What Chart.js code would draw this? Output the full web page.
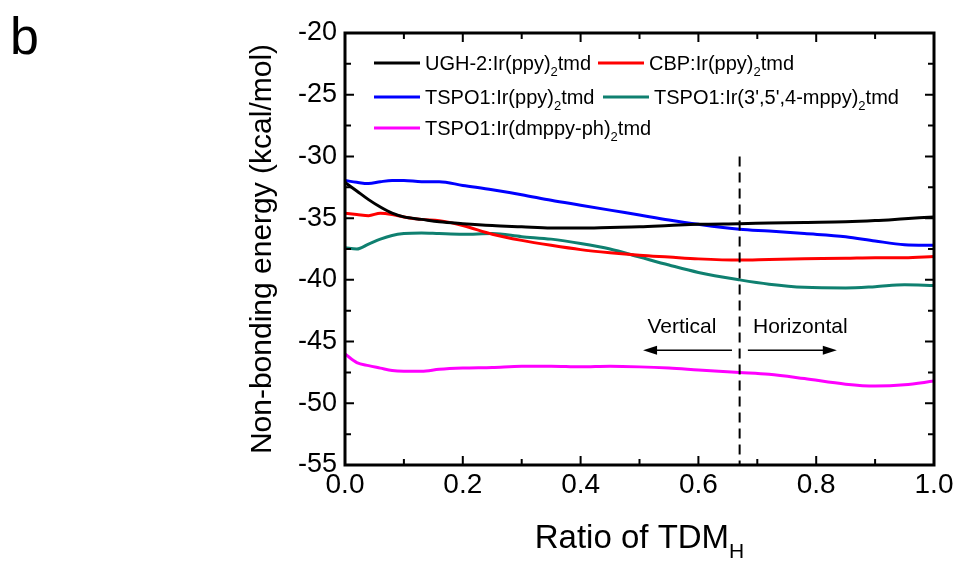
<!DOCTYPE html>
<html>
<head>
<meta charset="utf-8">
<script src="https://cdn.jsdelivr.net/npm/chart.js@4.4.0/dist/chart.umd.min.js"></script>
<style>
    body { margin: 0; background: #fff; }
</style>
</head>
<body>
<canvas id="myChart" width="960" height="564"></canvas>
<script>
// ratio of horizontal TDM (x axis)
var ratio = [0, 0.02, 0.04, 0.06, 0.08, 0.1, 0.13, 0.16, 0.2, 0.25, 0.3, 0.35, 0.4, 0.45, 0.5, 0.55, 0.6, 0.67, 0.72, 0.78, 0.85, 0.9, 0.95, 1.0];

// non-bonding energy (kcal/mol)
var ughPpy = [-32.1, -32.8, -33.5, -34.1, -34.6, -34.9, -35.1, -35.3, -35.45, -35.6, -35.7, -35.8, -35.8, -35.75, -35.7, -35.6, -35.5, -35.45, -35.4, -35.35, -35.3, -35.2, -35.05, -34.9];
var cbpPpy = [-34.6, -34.7, -34.8, -34.6, -34.7, -34.9, -35.1, -35.2, -35.6, -36.3, -36.8, -37.2, -37.55, -37.8, -38.0, -38.15, -38.3, -38.4, -38.35, -38.3, -38.25, -38.2, -38.2, -38.1];
var tspoPpy = [-31.95, -32.1, -32.2, -32.05, -31.95, -31.95, -32.05, -32.05, -32.35, -32.7, -33.1, -33.55, -33.95, -34.35, -34.75, -35.15, -35.5, -35.9, -36.05, -36.25, -36.5, -36.85, -37.15, -37.2];
var tspoMppy = [-37.4, -37.5, -37.1, -36.7, -36.4, -36.25, -36.2, -36.25, -36.3, -36.25, -36.5, -36.7, -37.05, -37.5, -38.15, -38.8, -39.4, -40.0, -40.35, -40.6, -40.65, -40.55, -40.4, -40.45];
var tspoDmppy = [-46.0, -46.7, -46.95, -47.15, -47.35, -47.4, -47.4, -47.25, -47.15, -47.1, -47.0, -47.0, -47.05, -47.0, -47.05, -47.15, -47.3, -47.5, -47.65, -48.0, -48.45, -48.6, -48.5, -48.2];

// "_" marks the subscript character that follows it
var seriesLabels = ["UGH-2:Ir(ppy)_2tmd", "CBP:Ir(ppy)_2tmd", "TSPO1:Ir(ppy)_2tmd", "TSPO1:Ir(3',5',4-mppy)_2tmd", "TSPO1:Ir(dmppy-ph)_2tmd"];
var seriesColors = ["#000000", "#ff0000", "#0000ff", "#0f8070", "#ff00ff"];

var xTicks = [0, 0.2, 0.4, 0.6, 0.8, 1.0];
var yTicks = [-20, -25, -30, -35, -40, -45, -50, -55];
var boundary = 0.67;

var FONT = "'Liberation Sans', Arial, sans-serif";

function toPoints(ys) {
    return ratio.map(function (r, i) { return { x: r, y: ys[i] }; });
}

// text with simple subscripts
function richWidth(ctx, text, size) {
    var w = 0;
    var parts = text.split("_");
    ctx.font = size + "px " + FONT;
    w += ctx.measureText(parts[0]).width;
    for (var i = 1; i < parts.length; i++) {
        ctx.font = Math.round(size * 0.65) + "px " + FONT;
        w += ctx.measureText(parts[i].charAt(0)).width;
        ctx.font = size + "px " + FONT;
        w += ctx.measureText(parts[i].slice(1)).width;
    }
    return w;
}

function drawRich(ctx, text, x, y, size) {
    var parts = text.split("_");
    ctx.textAlign = "left";
    ctx.textBaseline = "alphabetic";
    ctx.font = size + "px " + FONT;
    ctx.fillText(parts[0], x, y);
    x += ctx.measureText(parts[0]).width;
    for (var i = 1; i < parts.length; i++) {
        ctx.font = Math.round(size * 0.65) + "px " + FONT;
        var s = parts[i].charAt(0);
        ctx.fillText(s, x, y + size * 0.3);
        x += ctx.measureText(s).width;
        ctx.font = size + "px " + FONT;
        ctx.fillText(parts[i].slice(1), x, y);
        x += ctx.measureText(parts[i].slice(1)).width;
    }
}

function arrow(ctx, x1, x2, y) {
    var dir = x2 > x1 ? 1 : -1;
    ctx.beginPath();
    ctx.moveTo(x1, y);
    ctx.lineTo(x2 - dir * 10, y);
    ctx.stroke();
    ctx.beginPath();
    ctx.moveTo(x2, y);
    ctx.lineTo(x2 - dir * 14, y - 4.5);
    ctx.lineTo(x2 - dir * 14, y + 4.5);
    ctx.closePath();
    ctx.fill();
}

// legend slots: [line start x, row y] relative to the plot's top-left
var legendSlots = [[29, 30], [253, 30], [29, 64], [258, 64], [29, 95]];

var decorations = {
    id: "decorations",
    afterDraw: function (chart) {
        var ctx = chart.ctx, a = chart.chartArea;
        var xs = chart.scales.x, ys = chart.scales.y;
        ctx.save();
        ctx.strokeStyle = "#000";
        ctx.fillStyle = "#000";

        // inward ticks on all four sides
        ctx.lineWidth = 2;
        for (var k = 0; k <= 10; k++) {
            var px = xs.getPixelForValue(k / 10);
            var len = k % 2 === 0 ? 9 : 6;
            ctx.beginPath();
            ctx.moveTo(px, a.bottom); ctx.lineTo(px, a.bottom - len);
            ctx.moveTo(px, a.top); ctx.lineTo(px, a.top + len);
            ctx.stroke();
        }
        for (var j = 0; j <= 14; j++) {
            var py = ys.getPixelForValue(-20 - j * 2.5);
            var ylen = j % 2 === 0 ? 9 : 6;
            ctx.beginPath();
            ctx.moveTo(a.left, py); ctx.lineTo(a.left + ylen, py);
            ctx.moveTo(a.right, py); ctx.lineTo(a.right - ylen, py);
            ctx.stroke();
        }

        // frame
        ctx.lineWidth = 3;
        ctx.strokeRect(a.left, a.top, a.right - a.left, a.bottom - a.top);

        // vertical / horizontal boundary
        var bx = xs.getPixelForValue(boundary);
        ctx.lineWidth = 2;
        ctx.setLineDash([10, 6]);
        ctx.beginPath();
        ctx.moveTo(bx, ys.getPixelForValue(-30.0));
        ctx.lineTo(bx, a.bottom);
        ctx.stroke();
        ctx.setLineDash([]);

        ctx.lineWidth = 1.5;
        var ay = ys.getPixelForValue(-45.7);
        arrow(ctx, xs.getPixelForValue(0.657), xs.getPixelForValue(0.506), ay);
        arrow(ctx, xs.getPixelForValue(0.684), xs.getPixelForValue(0.835), ay);

        ctx.font = "21px " + FONT;
        ctx.textAlign = "center";
        ctx.textBaseline = "middle";
        ctx.fillText("Vertical", xs.getPixelForValue(0.572), ys.getPixelForValue(-43.85));
        ctx.fillText("Horizontal", xs.getPixelForValue(0.773), ys.getPixelForValue(-43.85));

        // legend
        for (var i = 0; i < seriesLabels.length; i++) {
            var lx = a.left + legendSlots[i][0], ly = a.top + legendSlots[i][1];
            ctx.strokeStyle = seriesColors[i];
            ctx.lineWidth = 3;
            ctx.beginPath();
            ctx.moveTo(lx, ly); ctx.lineTo(lx + 46, ly);
            ctx.stroke();
            ctx.fillStyle = "#000";
            drawRich(ctx, seriesLabels[i], lx + 51, ly + 7, 20);
        }

        // x axis title
        var title = "Ratio of TDM_H";
        var tw = richWidth(ctx, title, 33);
        drawRich(ctx, title, (a.left + a.right) / 2 - tw / 2, 548, 33);

        // panel letter
        ctx.font = "52px " + FONT;
        ctx.textAlign = "left";
        ctx.textBaseline = "alphabetic";
        ctx.fillText("b", 10, 54);
        ctx.restore();
    }
};

var ctx = document.getElementById("myChart").getContext("2d");
var myChart = new Chart(ctx, {
    type: "line",
    data: {
        datasets: [ughPpy, cbpPpy, tspoPpy, tspoMppy, tspoDmppy].map(function (d, i) {
            return {
                label: seriesLabels[i].replace("_", ""),
                data: toPoints(d),
                borderColor: seriesColors[i],
                backgroundColor: seriesColors[i],
                borderWidth: 3,
                pointRadius: 0,
                tension: 0.4,
                cubicInterpolationMode: "monotone",
                fill: false
            };
        })
    },
    options: {
        responsive: false,
        animation: false,
        layout: { padding: { left: 245, right: 26, top: 33, bottom: 0 } },
        plugins: {
            legend: { display: false },
            tooltip: { enabled: false }
        },
        scales: {
            x: {
                type: "linear",
                min: 0,
                max: 1,
                afterBuildTicks: function (axis) {
                    axis.ticks = xTicks.map(function (v) { return { value: v }; });
                },
                afterFit: function (s) { s.height = 99; },
                ticks: {
                    color: "#000",
                    font: { family: FONT, size: 28 },
                    padding: 3,
                    maxRotation: 0,
                    callback: function (v) { return v.toFixed(1); }
                },
                grid: { display: false, drawTicks: false },
                border: { display: false }
            },
            y: {
                type: "linear",
                min: -55,
                max: -20,
                afterBuildTicks: function (axis) {
                    axis.ticks = yTicks.map(function (v) { return { value: v }; });
                },
                afterFit: function (s) { s.width = 100; },
                ticks: {
                    color: "#000",
                    font: { family: FONT, size: 27 },
                    padding: 8
                },
                grid: { display: false, drawTicks: false },
                border: { display: false },
                title: {
                    display: true,
                    text: "Non-bonding energy (kcal/mol)",
                    color: "#000",
                    font: { family: FONT, size: 30 },
                    padding: 0
                }
            }
        }
    },
    plugins: [decorations]
});
</script>
</body>
</html>
